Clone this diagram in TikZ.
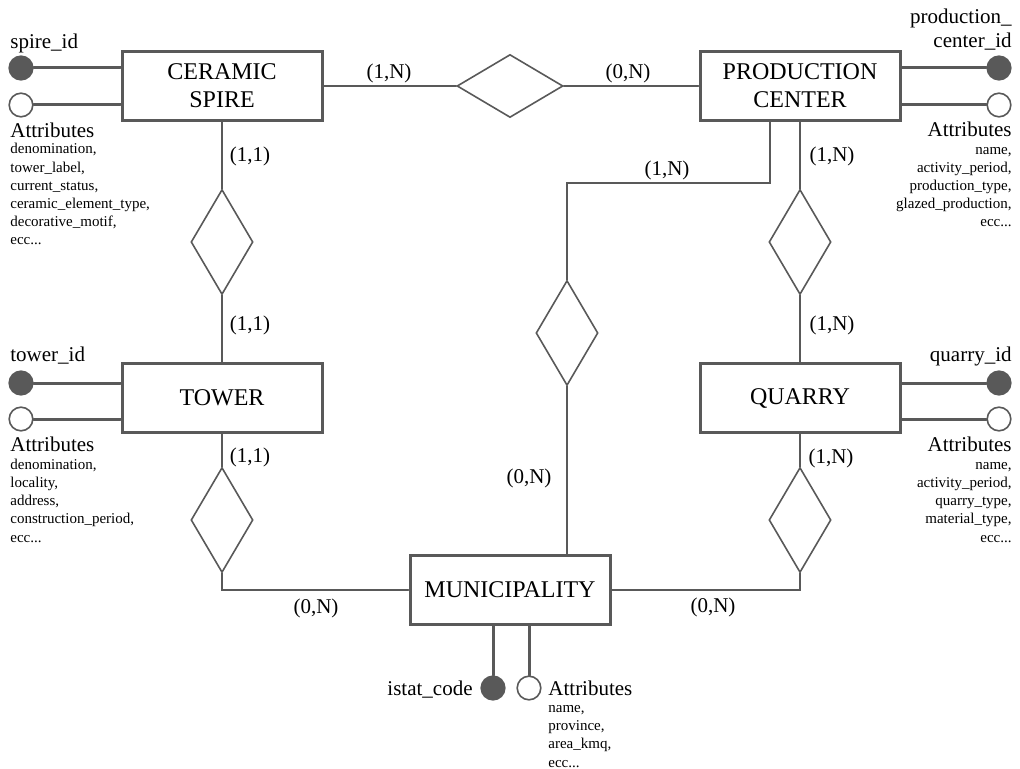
\documentclass[tikz,border=0pt]{standalone}
\usepackage{fontspec}
\setmainfont{Liberation Serif}
\usetikzlibrary{shapes.geometric}

\begin{document}
\begin{tikzpicture}
			[x=0.5pt,y=-0.5pt,line cap=round,
			%Styles
			entity/.style={rectangle,draw=linecolor,line width=1.5pt,minimum width=100pt,minimum height=34.5pt,inner sep=0pt,align=center,font=\fontsize{12}{14}\selectfont},
			relation/.style={diamond,draw=linecolor,line width=0.8pt,inner sep=0pt},
			flat relation/.style={relation,minimum width=53pt,minimum height=31.5pt},
			tall relation/.style={relation,minimum width=31pt,minimum height=52.5pt},
			link/.style={draw=linecolor,line width=0.8pt},
			attr link/.style={draw=linecolor,line width=1.5pt},
			key attr/.style={circle,draw=linecolor,fill=linecolor,line width=0.8pt,minimum size=11.8pt,inner sep=0pt},
			plain attr/.style={key attr,fill=white},
			card/.style={font=\fontsize{10.5}{12}\selectfont,inner sep=0pt},
			attr name/.style={font=\fontsize{10.5}{12}\selectfont,inner sep=0pt},
			attr list/.style={font=\fontsize{7.5}{9.1}\selectfont,inner sep=0pt}
			]
			
			%Colors
			\colorlet{linecolor}{black!65}	%borders and connectors
			
			\useasboundingbox (0,0) rectangle (1020,769);
			
			%Entities
			\node[entity] (spire) at (222,86) {CERAMIC\\SPIRE};
			\node[entity] (center) at (800,86) {PRODUCTION\\CENTER};
			\node[entity] (tower) at (222,398) {TOWER};
			\node[entity] (quarry) at (800,398) {QUARRY};
			\node[entity] (town) at (510,590) {MUNICIPALITY};
			
			%Relationships
			\node[flat relation] (madeby) at (510,86) {};
			\node[tall relation] (mounted) at (222,242) {};
			\node[tall relation] (towerin) at (222,520) {};
			\node[tall relation] (supplies) at (800,242) {};
			\node[tall relation] (quarryin) at (800,520) {};
			\node[tall relation] (centerin) at (567,333) {};
			\coordinate (elbow) at (567,183);
			
			\draw[link] (spire) -- (madeby) -- (center);
			\draw[link] (spire) -- (mounted) -- (tower);
			\draw[link] (tower) -- (towerin);
			\draw[link] (towerin.south) |- (town.west);
			\draw[link] (center) -- (supplies) -- (quarry);
			\draw[link] (quarry) -- (quarryin);
			\draw[link] (quarryin.south) |- (town.east);
			\draw[link] ([xshift=-15pt]center.south) |- (elbow) -- (centerin.north);
			\draw[link] (centerin.south) -- (centerin.south |- town.north);
			
			%Cardinalities
			\node[card] (c1) at (389,73) {(1,N)};
			\node[card] (c2) at (628,73) {(0,N)};
			\node[card] (c3) at (250,156) {(1,1)};
			\node[card] (c4) at (250,325) {(1,1)};
			\node[card] (c5) at (250,457) {(1,1)};
			\node[card] (c6) at (667,170) {(1,N)};
			\node[card] (c7) at (832,156) {(1,N)};
			\node[card] (c8) at (832,325) {(1,N)};
			\node[card] (c9) at (831,458) {(1,N)};
			\node[card] (c10) at (529,478) {(0,N)};
			\node[card] (c11) at (316,608) {(0,N)};
			\node[card] (c12) at (713,607) {(0,N)};
			
			%Attributes (lists are placed by the baseline of their last line)
			\node[key attr] (spirekey) at (21,68) {};
			\node[plain attr] (spireattr) at (21,105) {};
			\draw[attr link] (spirekey) -- (spirekey -| spire.west);
			\draw[attr link] (spireattr) -- (spireattr -| spire.west);
			\node[attr name,anchor=base west] (spirekeyname) at (10,49) {spire\_id};
			\node[attr name,anchor=base west] (spireattrname) at (10,138) {Attributes};
			\node[attr list,anchor=base west,align=left] (spirelist) at (10,245) {denomination,\\tower\_label,\\current\_status,\\ceramic\_element\_type,\\decorative\_motif,\\ecc...};
			
			\node[key attr] (towerkey) at (21,383) {};
			\node[plain attr] (towerattr) at (21,419) {};
			\draw[attr link] (towerkey) -- (towerkey -| tower.west);
			\draw[attr link] (towerattr) -- (towerattr -| tower.west);
			\node[attr name,anchor=base west] (towerkeyname) at (10,362) {tower\_id};
			\node[attr name,anchor=base west] (towerattrname) at (10,451) {Attributes};
			\node[attr list,anchor=base west,align=left] (towerlist) at (10,542) {denomination,\\locality,\\address,\\construction\_period,\\ecc...};
			
			\node[key attr] (centerkey) at (999,68) {};
			\node[plain attr] (centerattr) at (999,105) {};
			\draw[attr link] (centerkey) -- (centerkey -| center.east);
			\draw[attr link] (centerattr) -- (centerattr -| center.east);
			\node[attr name,anchor=base east,align=right] (centerkeyname) at (1012,48) {production\_\\center\_id};
			\node[attr name,anchor=base east] (centerattrname) at (1012,137) {Attributes};
			\node[attr list,anchor=base east,align=right] (centerlist) at (1012,227) {name,\\activity\_period,\\production\_type,\\glazed\_production,\\ecc...};
			
			\node[key attr] (quarrykey) at (999,383) {};
			\node[plain attr] (quarryattr) at (999,419) {};
			\draw[attr link] (quarrykey) -- (quarrykey -| quarry.east);
			\draw[attr link] (quarryattr) -- (quarryattr -| quarry.east);
			\node[attr name,anchor=base east] (quarrykeyname) at (1012,362) {quarry\_id};
			\node[attr name,anchor=base east] (quarryattrname) at (1012,451) {Attributes};
			\node[attr list,anchor=base east,align=right] (quarrylist) at (1012,542) {name,\\activity\_period,\\quarry\_type,\\material\_type,\\ecc...};
			
			\node[key attr] (townkey) at (493,688) {};
			\node[plain attr] (townattr) at (529,688) {};
			\draw[attr link] (townkey) -- (townkey |- town.south);
			\draw[attr link] (townattr) -- (townattr |- town.south);
			\node[attr name,anchor=base east] (townkeyname) at (473,695) {istat\_code};
			\node[attr name,anchor=base west] (townattrname) at (548,695) {Attributes};
			\node[attr list,anchor=base west,align=left] (townlist) at (548,767) {name,\\province,\\area\_kmq,\\ecc...};
		\end{tikzpicture}
\end{document}
